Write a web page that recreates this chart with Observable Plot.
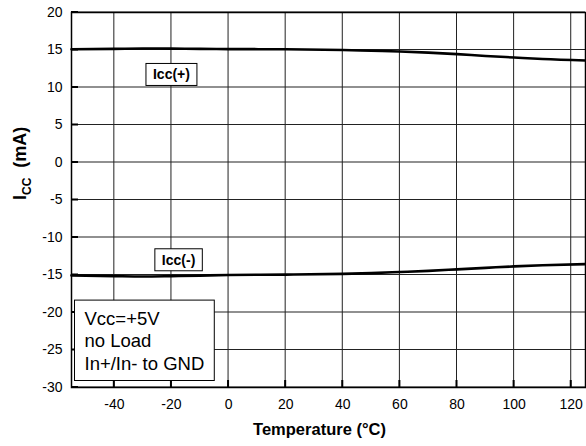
<!DOCTYPE html>
<html><head><meta charset="utf-8">
<script src="https://cdn.jsdelivr.net/npm/d3@7"></script>
<script src="https://cdn.jsdelivr.net/npm/@observablehq/plot@0.6"></script>
<style>
html,body{margin:0;padding:0;background:#fff;}
#chart{width:586px;height:446px;}
</style></head>
<body><div id="chart"></div>
<script>
const temps = [-55, -40, -30, -20, -10, 0, 20, 40, 50, 60, 70, 80, 90, 100, 110, 125];
const iccPlus = [15.1, 15.15, 15.2, 15.18, 15.15, 15.12, 15.1, 15.0, 14.9, 14.8, 14.65, 14.45, 14.2, 14.0, 13.8, 13.6];
const iccMinus = [-15.05, -15.15, -15.2, -15.15, -15.08, -15.0, -14.95, -14.85, -14.75, -14.6, -14.45, -14.25, -14.05, -13.85, -13.7, -13.55];
const xDomain = [-55, 125];
const yDomain = [-30, 20];
const xTicks = [-40, -20, 0, 20, 40, 60, 80, 100, 120];
const yTicks = [-30, -25, -20, -15, -10, -5, 0, 5, 10, 15, 20];
const seriesLabels = ["Icc(+)", "Icc(-)"];
const labelX = [-20, -17.5];
const labelY = [11.67, -13.04];
const note = "Vcc=+5V\nno Load\nIn+/In- to GND";

const W = 586, H = 446, ML = 71, MR = 1, MT = 12, MB = 59;
const plusData = temps.map((t, i) => ({t, v: iccPlus[i]}));
const minusData = temps.map((t, i) => ({t, v: iccMinus[i]}));
const labelData = seriesLabels.map((s, i) => ({s, x: labelX[i], y: labelY[i]}));

// short inward tick marks (7px converted to data units)
const tickLen = 7;
const dyUnit = tickLen * (yDomain[1] - yDomain[0]) / (H - MT - MB);
const dxUnit = tickLen * (xDomain[1] - xDomain[0]) / (W - ML - MR);

const FONT = "'Liberation Sans', Arial, sans-serif";
const fmt = d => String(d);

const chart = Plot.plot({
  width: W,
  height: H,
  marginLeft: ML,
  marginRight: MR,
  marginTop: MT,
  marginBottom: MB,
  style: {fontFamily: FONT, fontSize: "14px", color: "#000", background: "#fff"},
  x: {domain: xDomain},
  y: {domain: yDomain},
  marks: [
    // grid drawn as 1px filled rectangles
    Plot.rect(xTicks, {x1: d => d, x2: d => d, y1: yDomain[0], y2: yDomain[1], insetLeft: -0.5, insetRight: -0.5, fill: "#222"}),
    Plot.rect(yTicks, {y1: d => d, y2: d => d, x1: xDomain[0], x2: xDomain[1], insetTop: -0.5, insetBottom: -0.5, fill: "#222"}),
    // inward ticks as 2px filled rectangles
    Plot.rect(xTicks, {x1: d => d, x2: d => d, y1: yDomain[0], y2: yDomain[0] + dyUnit, insetLeft: -1, insetRight: -1, fill: "#000"}),
    Plot.rect(yTicks, {y1: d => d, y2: d => d, x1: xDomain[0], x2: xDomain[0] + dxUnit, insetTop: -1, insetBottom: -1, fill: "#000"}),
    Plot.axisX(xTicks, {tickSize: 0, tickPadding: 12, label: null, fontSize: 14, tickFormat: fmt}),
    Plot.axisY(yTicks, {tickSize: 0, tickPadding: 9, label: null, fontSize: 14, tickFormat: fmt}),
    Plot.frame({stroke: "#000", strokeWidth: 1.5}),
    Plot.line(plusData, {x: "t", y: "v", stroke: "#000", strokeWidth: 2.6, curve: "monotone-x"}),
    Plot.line(minusData, {x: "t", y: "v", stroke: "#000", strokeWidth: 2.6, curve: "monotone-x"}),
    Plot.text(labelData, {x: "x", y: "y", text: "s", fontWeight: "bold", fontSize: 14, fill: "#000", lineAnchor: "middle"}),
    Plot.text([note], {frameAnchor: "bottom-left", textAnchor: "start", lineAnchor: "bottom", dx: 13, dy: -18, fontSize: 18.5, lineHeight: 1.2, fill: "#000"}),
    Plot.text(["Temperature (°C)"], {frameAnchor: "bottom", lineAnchor: "bottom", dx: -9, dy: 47, fontSize: 16.5, fontWeight: "bold", fill: "#000"}),
    Plot.text(["ICC (mA)"], {frameAnchor: "left", rotate: -90, lineAnchor: "bottom", dx: -46, dy: 0, fontSize: 18, fontWeight: "bold", fill: "#000"})
  ]
});
document.getElementById("chart").appendChild(chart);

const svgNS = "http://www.w3.org/2000/svg";
// boxes behind labels and subscript in y label
chart.querySelectorAll("text").forEach(t => {
  const content = t.textContent;
  if (content === "Icc(+)" || content === "Icc(-)" || content.startsWith("Vcc=")) {
    const isNote = content.startsWith("Vcc=");
    const b = t.getBBox();
    const padX = isNote ? 10 : 7;
    const padT = isNote ? 8 : 3;
    const padB = isNote ? 7 : 3;
    const r = document.createElementNS(svgNS, "rect");
    r.setAttribute("x", b.x - padX);
    r.setAttribute("y", b.y - padT);
    r.setAttribute("width", b.width + 2 * padX);
    r.setAttribute("height", b.height + padT + padB);
    r.setAttribute("fill", "#fff");
    r.setAttribute("stroke", "#000");
    r.setAttribute("stroke-width", "1");
    const tr = t.getAttribute("transform");
    if (tr) r.setAttribute("transform", tr);
    t.parentNode.insertBefore(r, t);
  }
  if (content === "ICC (mA)") {
    while (t.firstChild) t.removeChild(t.firstChild);
    const a = document.createElementNS(svgNS, "tspan");
    a.textContent = "I";
    const s = document.createElementNS(svgNS, "tspan");
    s.textContent = "CC";
    s.setAttribute("font-size", "12");
    s.setAttribute("dy", "5");
    const c = document.createElementNS(svgNS, "tspan");
    c.textContent = "  (mA)";
    c.setAttribute("dy", "-5");
    t.setAttribute("xml:space", "preserve");
    t.appendChild(a); t.appendChild(s); t.appendChild(c);
  }
});
</script>
</body></html>
